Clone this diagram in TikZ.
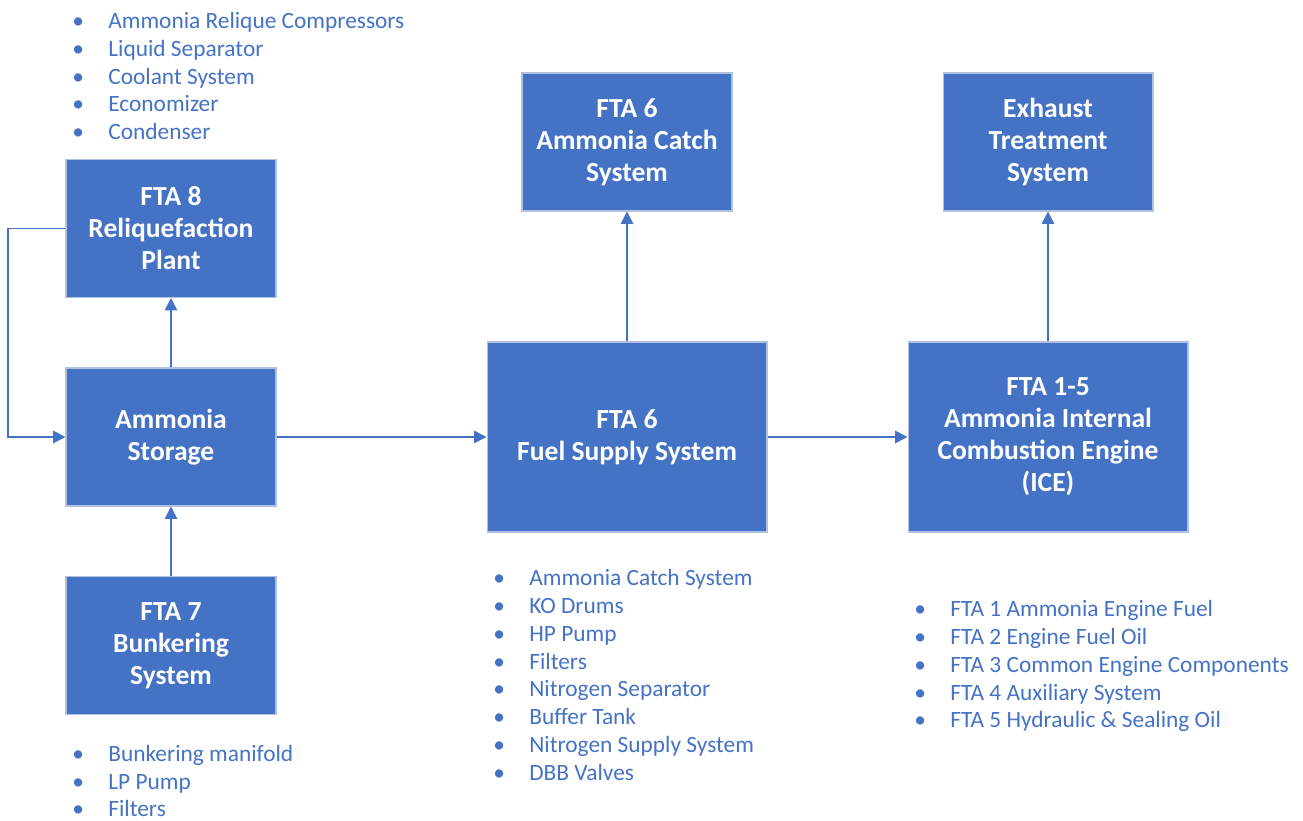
\documentclass[tikz,border=0pt]{standalone}
\usepackage{fontspec}
\setmainfont{Carlito}
\usetikzlibrary{arrows.meta}
\definecolor{ftablue}{HTML}{4472C4}
\definecolor{ftaedge}{HTML}{AFC0E0}
\newcommand{\itm}[1]{\makebox[0.72cm][l]{\textbullet}#1}

\begin{document}
\begin{tikzpicture}[x=0.02cm, y=-0.02cm]
    \tikzstyle{box}=[rectangle, fill=ftablue, draw=ftaedge, line width=0.6pt, text=white, font=\fontsize{15.7}{18.2}\selectfont\bfseries, align=center, inner sep=0pt]
    \tikzstyle{small box}=[box, minimum width=4.2cm, minimum height=2.76cm]
    \tikzstyle{big box}=[box, minimum width=5.6cm, minimum height=3.8cm]
    \tikzstyle{items}=[anchor=west, text=ftablue, font=\fontsize{13.3}{15.9}\selectfont, align=left, inner sep=0pt]
    \tikzstyle{flow}=[draw=ftablue, line width=0.9pt, -{Triangle[length=7pt, width=7pt]}]
    \useasboundingbox (0,0) rectangle (1303,821);
    % boxes
    \node [small box] (reliq) at (171,228.5) {FTA 8\\Reliquefaction\\Plant};
    \node [small box] (store) at (171,437) {Ammonia\\Storage};
    \node [small box] (bunker) at (171,645.5) {FTA 7\\Bunkering\\System};
    \node [small box] (catch) at (627,142) {FTA 6\\Ammonia Catch\\System};
    \node [small box] (exhaust) at (1048,142) {Exhaust\\Treatment\\System};
    \node [big box] (fuel) at (627,437) {FTA 6\\Fuel Supply System};
    \node [big box] (ice) at (1048,437) {FTA 1-5\\Ammonia Internal\\Combustion Engine\\(ICE)};
    % item lists
    \node [items] (reliqlist) at (72,76) {\itm{Ammonia Relique Compressors}\\\itm{Liquid Separator}\\\itm{Coolant System}\\\itm{Economizer}\\\itm{Condenser}};
    \node [items] (bunkerlist) at (72,781) {\itm{Bunkering manifold}\\\itm{LP Pump}\\\itm{Filters}};
    \node [items] (fuellist) at (493,675) {\itm{Ammonia Catch System}\\\itm{KO Drums}\\\itm{HP Pump}\\\itm{Filters}\\\itm{Nitrogen Separator}\\\itm{Buffer Tank}\\\itm{Nitrogen Supply System}\\\itm{DBB Valves}};
    \node [items] (icelist) at (914,666) {\itm{FTA 1 Ammonia Engine Fuel}\\\itm{FTA 2 Engine Fuel Oil}\\\itm{FTA 3 Common Engine Components}\\\itm{FTA 4 Auxiliary System}\\\itm{FTA 5 Hydraulic \& Sealing Oil}};
    % connectors
    \coordinate (loop) at (8,228.5);
    \draw [flow] (store) -- (reliq);
    \draw [flow] (bunker) -- (store);
    \draw [flow] (reliq.west) -- (loop) |- (store.west);
    \draw [flow] (store) -- (fuel);
    \draw [flow] (fuel) -- (catch);
    \draw [flow] (fuel) -- (ice);
    \draw [flow] (ice) -- (exhaust);
\end{tikzpicture}
\end{document}
